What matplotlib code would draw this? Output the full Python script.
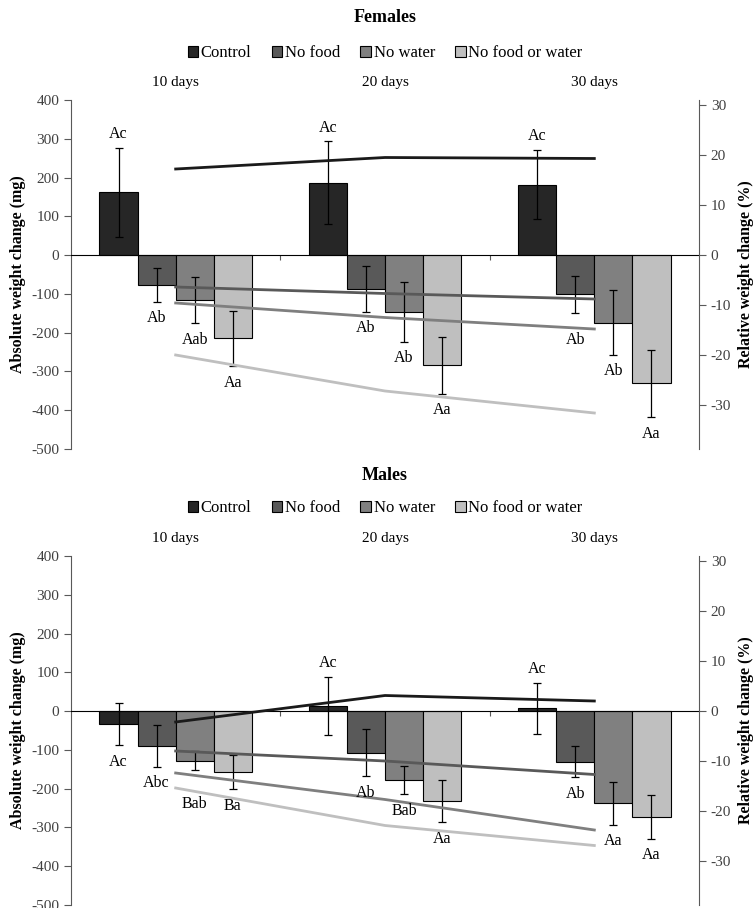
import matplotlib.pyplot as plt
import numpy as np

plt.rcParams['font.family'] = ['Liberation Serif', 'DejaVu Serif']
plt.rcParams['axes.unicode_minus'] = False

days = ['10 days', '20 days', '30 days']
groups = ['Control', 'No food', 'No water', 'No food or water']
bar_colors = ['#262626', '#595959', '#808080', '#bfbfbf']
line_colors = ['#1a1a1a', '#595959', '#7f7f7f', '#bfbfbf']

# Females: absolute change (mg), rows = groups, cols = days
fem_abs = [[162, 187, 182],
           [-77, -88, -101],
           [-116, -146, -174],
           [-215, -284, -331]]
fem_err = [[115, 107, 89],
           [43, 59, 48],
           [60, 77, 83],
           [72, 74, 87]]
fem_lab = [['Ac', 'Ac', 'Ac'],
           ['Ab', 'Ab', 'Ab'],
           ['Aab', 'Ab', 'Ab'],
           ['Aa', 'Aa', 'Aa']]
# Females: relative change (%)
fem_rel = [[17.2, 19.5, 19.3],
           [-6.4, -7.7, -8.8],
           [-9.6, -12.5, -14.8],
           [-20.0, -27.2, -31.6]]

# Males
male_abs = [[-34, 14, 7],
            [-90, -107, -131],
            [-128, -178, -238],
            [-158, -232, -273]]
male_err = [[54, 75, 66],
            [54, 61, 40],
            [24, 37, 55],
            [44, 55, 57]]
male_lab = [['Ac', 'Ac', 'Ac'],
            ['Abc', 'Ab', 'Ab'],
            ['Bab', 'Bab', 'Aa'],
            ['Ba', 'Aa', 'Aa']]
male_rel = [[-2.2, 3.1, 2.0],
            [-8.0, -10.0, -12.7],
            [-12.4, -17.7, -23.8],
            [-15.4, -22.9, -26.9]]

W, H = 756, 908
fig = plt.figure(figsize=(W / 100, H / 100), dpi=100)

AX_GRAY = '#595959'


def draw_panel(rect, title, y_title, y_leg, vals, errs, labs, rels, nudge=None):
    nudge = nudge or {}
    ax = fig.add_axes(rect)
    ax2 = ax.twinx()
    x = np.arange(len(days))
    bw = 0.182
    for i, g in enumerate(groups):
        xs = x + (i - 1.5) * bw
        ax.bar(xs, vals[i], bw, color=bar_colors[i], edgecolor='black',
               linewidth=0.8, label=g, zorder=2)
        ax.errorbar(xs, vals[i], yerr=errs[i], fmt='none', ecolor='black',
                    elinewidth=0.9, capsize=3, capthick=0.9, zorder=3)
        for j, (xi, v, e, t) in enumerate(zip(xs, vals[i], errs[i], labs[i])):
            dy = nudge.get((i, j), 0)
            if v >= 0:
                ax2.annotate(t, (xi, v + e), xycoords=ax.transData, xytext=(0, 4 + dy),
                             textcoords='offset points', ha='center', va='bottom',
                             fontsize=11.5, zorder=10)
            else:
                ax2.annotate(t, (xi, v - e), xycoords=ax.transData, xytext=(0, -6 - dy),
                             textcoords='offset points', ha='center', va='top',
                             fontsize=11.5, zorder=10)
    ax.axhline(0, color='black', linewidth=0.8, zorder=4)
    ax.vlines(x[:-1] + 0.5, -12, 0, color=AX_GRAY, linewidth=0.8)
    ax.set_xlim(-0.5, len(days) - 0.5)
    ax.set_ylim(-500, 400)
    ax.set_yticks(np.arange(-500, 401, 100))
    ax.set_xticks(x)
    ax.set_xticklabels(days, fontsize=11)
    ax.xaxis.tick_top()
    ax.tick_params(axis='x', length=0, pad=8)
    ax.tick_params(axis='y', colors=AX_GRAY, labelcolor='#404040', labelsize=11,
                   length=5, width=0.8, direction='out')
    for s in ['top', 'bottom', 'right']:
        ax.spines[s].set_visible(False)
    ax.spines['left'].set_color(AX_GRAY)
    ax.set_ylabel('Absolute weight change (mg)', fontsize=11.5, fontweight='bold', labelpad=4)

    for i in range(len(groups)):
        ax2.plot(x, rels[i], color=line_colors[i], linewidth=2.0, zorder=5)
    ax2.set_ylim(-38.8, 31)
    ax2.set_yticks(np.arange(-30, 31, 10))
    ax2.tick_params(axis='y', colors=AX_GRAY, labelcolor='#404040', labelsize=11,
                    length=5, width=0.8, direction='out')
    for s in ['top', 'bottom', 'left']:
        ax2.spines[s].set_visible(False)
    ax2.spines['right'].set_color(AX_GRAY)
    ax2.set_ylabel('Relative weight change (%)', fontsize=11.5, fontweight='bold', labelpad=5)

    cx = rect[0] + rect[2] / 2
    fig.text(cx, 1 - y_title / H, title, ha='center', va='center',
             fontsize=13, fontweight='bold')
    handles, labels = ax.get_legend_handles_labels()
    fig.legend(handles, labels, loc='center', bbox_to_anchor=(cx, 1 - y_leg / H),
               ncol=4, frameon=False, fontsize=12, handlelength=0.65, handleheight=0.65,
               handletextpad=0.15, columnspacing=1.2, borderaxespad=0)
    return ax


L, R = 71 / W, 699 / W
draw_panel([L, 1 - 449 / H, R - L, 349 / H], 'Females', 18, 53,
           fem_abs, fem_err, fem_lab, fem_rel, nudge={(1, 2): 8})
draw_panel([L, 1 - 905 / H, R - L, 349 / H], 'Males', 475, 508,
           male_abs, male_err, male_lab, male_rel, nudge={(2, 0): 13})

fig.savefig('out.png', dpi=100)
